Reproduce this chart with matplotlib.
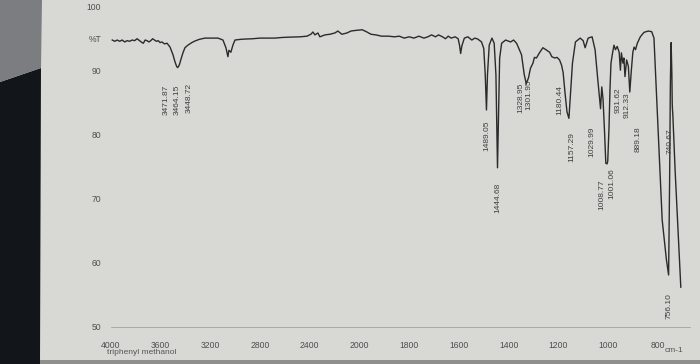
import numpy as np
import matplotlib
matplotlib.use('Agg')
import matplotlib.pyplot as plt
from matplotlib.patches import Polygon, Rectangle

plt.rcParams['font.family'] = ['Liberation Sans', 'DejaVu Sans']

# ---------------- data ----------------
wavenumber = [
    3990, 3970, 3950, 3930, 3910, 3890, 3870, 3850, 3830, 3810, 3790, 3770,
    3750, 3740, 3725, 3710, 3695, 3680, 3665, 3650, 3635, 3620, 3605, 3590,
    3570, 3549, 3525, 3501, 3485, 3471.87, 3464.15, 3456, 3448.72, 3437, 3421,
    3405, 3381, 3350, 3324, 3290, 3244, 3190, 3139, 3099, 3075, 3059, 3051,
    3035, 3019, 3002, 2960, 2922, 2860, 2801, 2740, 2681, 2620, 2560, 2479,
    2423, 2391, 2375, 2359, 2335, 2319, 2278, 2238, 2198, 2174, 2142, 2101,
    2069, 2030,
    1989, 1970, 1954, 1934, 1911, 1883, 1859, 1840, 1820, 1800, 1781, 1761,
    1741, 1725, 1710, 1694, 1682, 1666, 1654, 1643, 1631, 1615, 1603, 1597,
    1593, 1588, 1578, 1564, 1548, 1536, 1524, 1509, 1500, 1494, 1489.05, 1485,
    1478, 1467, 1458, 1451, 1444.68, 1440, 1436, 1428, 1412, 1392, 1380, 1368,
    1360, 1348, 1337, 1328.95, 1320, 1312, 1301.95, 1296, 1288, 1276, 1262,
    1250, 1235, 1226, 1214, 1205, 1195, 1187, 1180.44, 1173, 1165, 1157.29,
    1150, 1143, 1131, 1112, 1100, 1092, 1080, 1064, 1052, 1041, 1029.99, 1025,
    1020, 1014, 1008.77, 1004, 1001.06, 996, 992, 988, 982, 976, 970, 963, 955,
    950, 946, 940, 936, 931.62, 925, 918, 912.33, 906, 900, 895, 889.18, 882,
    870, 855, 838, 824, 815, 800, 782, 765, 756.10, 752, 749, 746, 743, 741.5,
    740.67, 739, 730, 720, 712, 707,
]
transmittance = [
    94.7, 94.5, 94.7, 94.5, 94.7, 94.4, 94.6, 94.5, 94.7, 94.6, 94.9, 94.6,
    94.3, 94.2, 94.7, 94.6, 94.4, 94.6, 94.9, 94.7, 94.5, 94.6, 94.3, 94.4,
    94.1, 94.2, 93.6, 92.4, 91.3, 90.6, 90.4, 90.6, 90.9, 91.7, 92.7, 93.5,
    93.9, 94.3, 94.55, 94.8, 95.0, 95.0, 95.0, 94.7, 93.5, 92.1, 93.1, 92.8,
    93.9, 94.7, 94.8, 94.85, 94.9, 95.0, 95.0, 95.0, 95.1, 95.15, 95.2, 95.3,
    95.6, 95.95, 95.5, 95.8, 95.2, 95.5, 95.6, 95.8, 96.1, 95.6, 95.8, 96.1,
    96.2,
    96.3, 95.95, 95.6, 95.5, 95.3, 95.3, 95.2, 95.3, 95.0, 95.2, 95.0, 95.3,
    95.0, 95.2, 95.5, 95.2, 95.5, 95.2, 94.9, 95.3, 95.0, 95.2, 94.9, 93.8,
    92.6, 93.8, 95.0, 95.2, 94.7, 95.0, 94.85, 94.4, 93.4, 89.3, 83.8, 89.3,
    93.9, 95.0, 94.2, 89.3, 74.8, 84.0, 91.9, 94.2, 94.7, 94.4, 94.7, 94.2,
    93.5, 92.4, 89.3, 87.9, 88.8, 90.3, 91.1, 92.0, 91.9, 92.7, 93.5, 93.2,
    92.8, 92.1, 91.9, 92.0, 91.6, 90.8, 89.6, 86.5, 83.5, 82.5, 87.0, 91.1,
    94.4, 95.0, 94.6, 93.5, 95.0, 95.2, 93.2, 88.5, 84.0, 87.4, 85.5, 80.5,
    75.5, 75.4, 75.8, 81.0, 87.0, 91.1, 92.6, 93.9, 93.2, 93.7, 92.8, 90.0,
    92.7, 91.1, 91.9, 89.0, 91.6, 90.6, 86.6, 90.0, 92.8, 93.6, 93.2, 94.2,
    95.2, 95.9, 96.1, 96.0, 95.0, 82.2, 66.7, 60.5, 58.1, 73.0, 88.0, 94.3,
    89.5, 84.8, 84.0, 83.0, 74.5, 66.5, 60.0, 56.2,
]
x_ticks = [4000, 3600, 3200, 2800, 2400, 2000, 1800, 1600, 1400, 1200, 1000, 800]
y_ticks = [100, 95, 90, 80, 70, 60, 50]
y_tick_labels = ['100', '%T', '90', '80', '70', '60', '50']
peak_wn = [3471.87, 3464.15, 3448.72, 1489.05, 1444.68, 1328.95, 1301.95,
           1180.44, 1157.29, 1029.99, 1008.77, 1001.06, 931.62, 912.33,
           889.18, 756.10, 740.67]
sample_name = 'triphenyl methanol'
x_unit = 'cm-1'

# ---------------- layout of the peak labels (positions only) ----------------
label_top = [87.7, 87.7, 88.0, 82.2, 72.4, 88.0, 88.5, 87.7, 80.4, 81.2,
             72.9, 74.8, 87.4, 86.6, 81.2, 55.3, 81.0]
label_dx = [-10, 0, 10, 0, 0, -5, -4, -3, 3, -9, -4, 4, -7, -3, 3, 0, -2]

# ---------------- figure ----------------
W, H = 700, 364
fig = plt.figure(figsize=(W / 100, H / 100), dpi=100, facecolor='#d8d8d5')

def fx(px):
    return px / W

def fy(py):
    return 1 - py / H

# surroundings of the photographed sheet
fig.patches.append(Polygon([[0, 0], [fx(40), 0], [fx(41), fy(68)], [0, fy(82)]],
                           closed=True, transform=fig.transFigure,
                           facecolor='#121519', edgecolor='none', zorder=0))
fig.patches.append(Polygon([[0, fy(82)], [fx(41), fy(68)], [fx(42), 1], [0, 1]],
                           closed=True, transform=fig.transFigure,
                           facecolor='#7c7d80', edgecolor='none', zorder=0))
fig.patches.append(Rectangle((fx(40), 0), fx(W), fy(360), transform=fig.transFigure,
                             facecolor='#8f8f8d', edgecolor='none', zorder=0))

ax = fig.add_axes([fx(111), fy(327), fx(690) - fx(111), fy(6) - fy(327)])
ax.set_facecolor('none')


def fwd(w):
    w = np.asarray(w, dtype=float)
    return np.where(w >= 2000, w, 2 * w - 2000)


def inv(u):
    u = np.asarray(u, dtype=float)
    return np.where(u >= 2000, u, (u + 2000) / 2)


ax.set_xscale('function', functions=(fwd, inv))
ax.set_xlim(4000, 670)
ax.set_ylim(50, 100)

ax.plot(wavenumber, transmittance, color='#2b2b2b', lw=1.0, solid_joinstyle='round')

ax.set_xticks(x_ticks)
ax.set_xticklabels([str(t) for t in x_ticks])
ax.set_yticks(y_ticks)
ax.set_yticklabels(y_tick_labels)
ax.tick_params(axis='both', length=0, labelsize=6.2, colors='#4e4e4e')
ax.tick_params(axis='x', pad=10)
ax.tick_params(axis='y', pad=7)
ax.minorticks_off()

for s in ['top', 'right', 'left']:
    ax.spines[s].set_visible(False)
ax.spines['bottom'].set_color('#a3a3a0')
ax.spines['bottom'].set_linewidth(0.6)

for wn, top, dx in zip(peak_wn, label_top, label_dx):
    ax.annotate(f'{wn:.2f}', xy=(wn, top), xytext=(dx, 0), textcoords='offset pixels',
                rotation=90, ha='center', va='top', fontsize=6, color='#3f3f3f')

fig.text(fx(107), fy(353), sample_name, fontsize=6, color='#555555', va='center', ha='left')
fig.text(fx(674), fy(350), x_unit, fontsize=6, color='#555555', va='center', ha='center')

fig.savefig('out.png', dpi=100, facecolor=fig.get_facecolor())
